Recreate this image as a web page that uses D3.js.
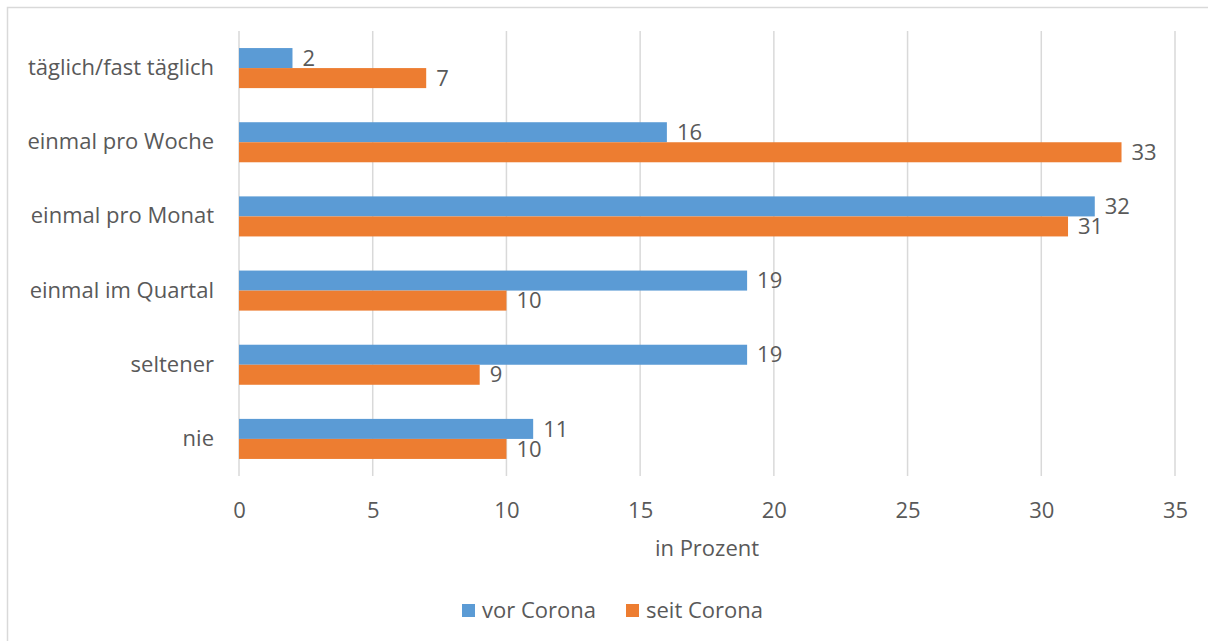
<!DOCTYPE html>
<html>
<head>
<meta charset="utf-8">
<script src="https://cdn.jsdelivr.net/npm/d3@7"></script>
<style>
  html, body { margin: 0; padding: 0; background: #fff; }
  svg { display: block; }
  text { font-family: "Open Sans", Lato, sans-serif; fill: #595959; }
</style>
</head>
<body>
<svg id="chart" width="1208" height="641"></svg>
<script>
// Häufigkeit, vor und seit Corona (in Prozent)
const categories = ["täglich/fast täglich", "einmal pro Woche", "einmal pro Monat", "einmal im Quartal", "seltener", "nie"];
const vorCorona  = [2, 16, 32, 19, 19, 11];
const seitCorona = [7, 33, 31, 10, 9, 10];
const seriesNames = ["vor Corona", "seit Corona"];
const seriesColors = ["#5B9BD5", "#ED7D31"];
const xTicks = [0, 5, 10, 15, 20, 25, 30, 35];
const axisTitle = "in Prozent";

const svg = d3.select("#chart");
const W = 1208, H = 641;
const FS = "22px";
const FONT = '"Open Sans", sans-serif';

// Chart frame (only top and left edges fall inside the canvas)
svg.append("rect")
  .attr("x", 7.5).attr("y", 7.5)
  .attr("width", W + 20).attr("height", H + 20)
  .attr("fill", "#fff").attr("stroke", "#d9d9d9").attr("stroke-width", 1.5);

const plot = { left: 239, right: 1175, top: 31, bottom: 476 };

const x = d3.scaleLinear().domain([0, 35]).range([plot.left, plot.right]);
const y = d3.scaleBand().domain(categories).range([plot.top, plot.bottom]).paddingInner(0.46).paddingOuter(0.23);
const inner = d3.scaleBand().domain(seriesNames).range([0, y.bandwidth()]);

// Vertical gridlines
svg.append("g")
  .selectAll("line")
  .data(xTicks)
  .join("line")
  .attr("x1", d => x(d)).attr("x2", d => x(d))
  .attr("y1", plot.top).attr("y2", plot.bottom)
  .attr("stroke", "#d9d9d9").attr("stroke-width", 1.5);

// X tick labels via axis
const xAxis = d3.axisBottom(x).tickValues(xTicks).tickSize(0).tickPadding(0);
const gx = svg.append("g").attr("transform", `translate(0, ${plot.bottom + 42})`).call(xAxis);
gx.select(".domain").remove();
gx.selectAll("text")
  .attr("dy", 0)
  .style("font-size", FS)
  .style("font-family", FONT)
  .attr("fill", "#595959");

// Category labels via axis
const yAxis = d3.axisLeft(y).tickSize(0).tickPadding(0);
const gy = svg.append("g").attr("transform", `translate(${plot.left - 25}, 0)`).call(yAxis);
gy.select(".domain").remove();
gy.selectAll("text")
  .style("font-size", FS)
  .style("font-family", FONT)
  .attr("fill", "#595959");

const rows = categories.map((c, i) => ({ cat: c, values: [vorCorona[i], seitCorona[i]] }));

const groups = svg.append("g").selectAll("g")
  .data(rows)
  .join("g")
  .attr("transform", d => `translate(0, ${y(d.cat)})`);

groups.selectAll("rect")
  .data(d => d.values.map((v, k) => ({ v, k })))
  .join("rect")
  .attr("x", x(0))
  .attr("y", d => inner(seriesNames[d.k]))
  .attr("width", d => x(d.v) - x(0))
  .attr("height", inner.bandwidth())
  .attr("fill", d => seriesColors[d.k]);

// Value labels
groups.selectAll("text.val")
  .data(d => d.values.map((v, k) => ({ v, k })))
  .join("text")
  .attr("class", "val")
  .attr("x", d => x(d.v) + 10)
  .attr("y", d => inner(seriesNames[d.k]) + inner.bandwidth() / 2)
  .attr("dy", "0.35em")
  .style("font-size", FS)
  .attr("fill", "#404040")
  .text(d => d.v);

// Axis title
svg.append("text")
  .attr("x", (plot.left + plot.right) / 2)
  .attr("y", 556)
  .attr("text-anchor", "middle")
  .style("font-size", FS)
  .text(axisTitle);

// Legend
const legend = svg.append("g");
const legendItems = [{ name: seriesNames[0], x: 462 }, { name: seriesNames[1], x: 626 }];
legendItems.forEach((d, i) => {
  legend.append("rect")
    .attr("x", d.x).attr("y", 604)
    .attr("width", 13).attr("height", 13)
    .attr("fill", seriesColors[i]);
  legend.append("text")
    .attr("x", d.x + 20).attr("y", 610)
    .attr("dy", "0.35em")
    .style("font-size", FS)
    .text(d.name);
});
</script>
</body>
</html>
